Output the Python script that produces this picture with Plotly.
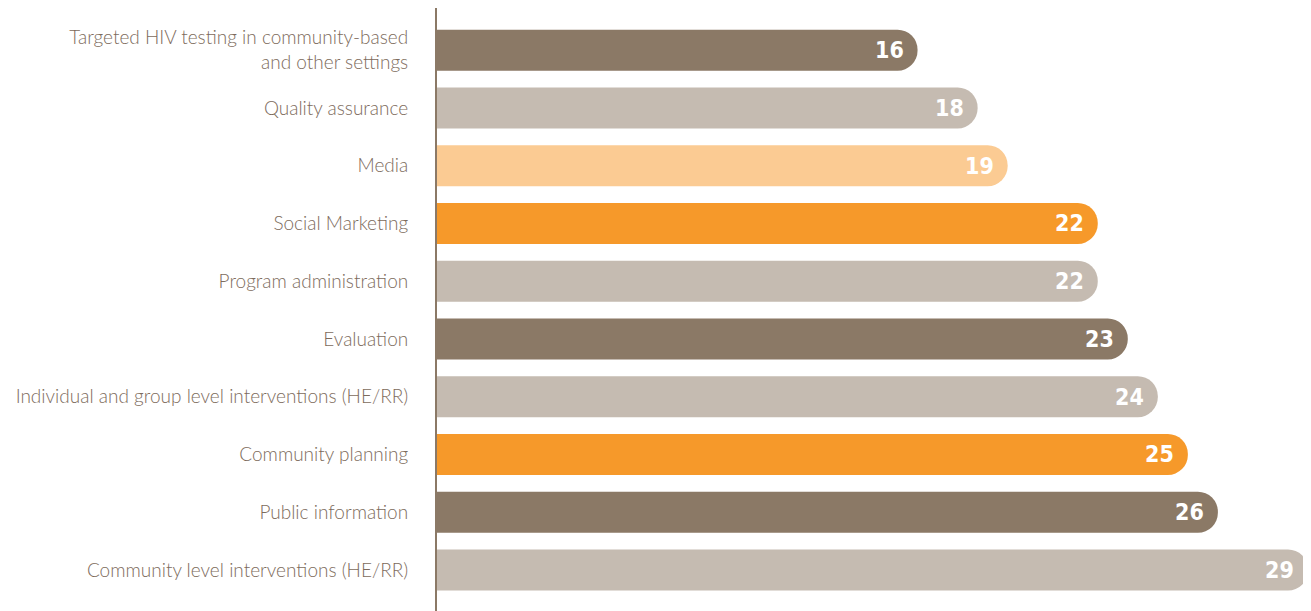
import plotly.graph_objects as go

categories = [
    "Targeted HIV testing in community-based<br>and other settings",
    "Quality assurance",
    "Media",
    "Social Marketing",
    "Program administration",
    "Evaluation",
    "Individual and group level interventions (HE/RR)",
    "Community planning",
    "Public information",
    "Community level interventions (HE/RR)",
]
values = [16, 18, 19, 22, 22, 23, 24, 25, 26, 29]

DARK = "#8B7966"
LIGHT = "#C5BBB1"
PALE = "#FBCB93"
ORANGE = "#F6992A"
bar_colors = [DARK, LIGHT, PALE, ORANGE, LIGHT, DARK, LIGHT, ORANGE, DARK, LIGHT]

fig = go.Figure()
fig.add_trace(go.Bar(
    x=values,
    y=categories,
    orientation="h",
    marker=dict(color=bar_colors, line=dict(width=0), cornerradius="50%"),
    hoverinfo="skip",
))

for v, c in zip(values, categories):
    fig.add_annotation(
        x=v, y=c, text=str(v), showarrow=False,
        xanchor="right", yanchor="middle", xshift=-12,
        font=dict(family="DejaVu Sans Condensed", size=23,
                  color="white", weight="bold"),
    )

fig.update_layout(
    width=1303, height=603,
    margin=dict(l=429, r=0, t=0, b=0),
    paper_bgcolor="white", plot_bgcolor="white",
    bargap=0.29,
    showlegend=False,
    xaxis=dict(range=[0, 29.1], visible=False, fixedrange=True),
    yaxis=dict(
        type="category",
        categoryorder="array", categoryarray=categories,
        range=[9.71, -0.73],
        showline=True, linecolor=DARK, linewidth=2,
        showgrid=False, zeroline=False, ticks="",
        ticklabelstandoff=23,
        tickfont=dict(family="Lato", size=19, color="#7D6B5C", weight=300),
    ),
)

fig.write_html("out.html")
